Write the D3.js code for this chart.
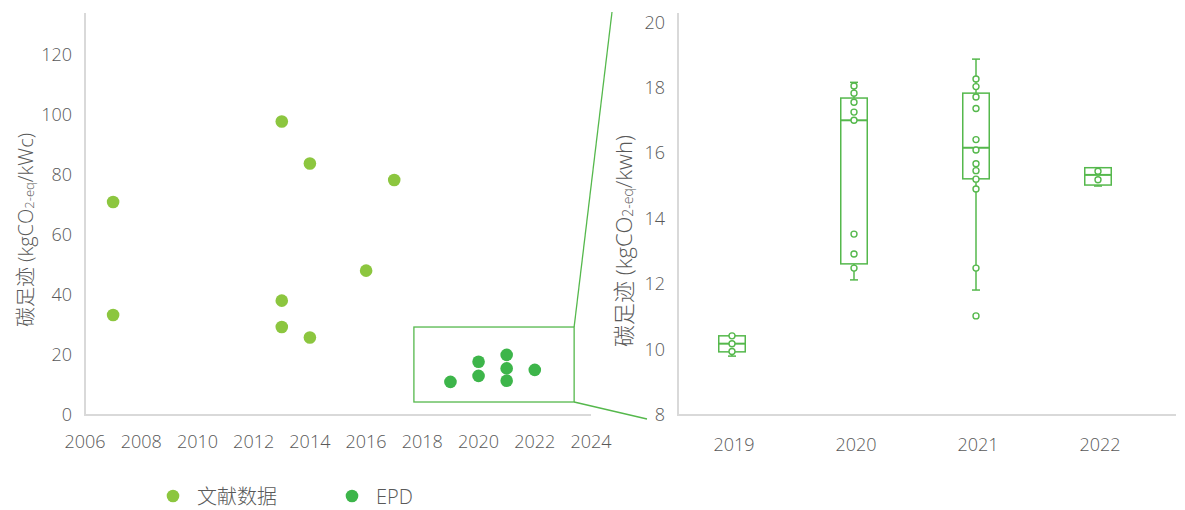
<!DOCTYPE html>
<html>
<head>
<meta charset="utf-8">
<script src="https://cdn.jsdelivr.net/npm/d3@7"></script>
<style>
  body { margin: 0; background: #fff; }
  text { font-family: "Open Sans", "Noto Sans CJK SC", sans-serif; font-weight: 300; fill: #595959; }
</style>
</head>
<body>
<svg id="chart" width="1185" height="510"></svg>
<script>
// left scatter: literature data
var litYears  = [2007, 2007, 2013, 2013, 2013, 2014, 2014, 2016, 2017];
var litValues = [70.7, 33, 97.5, 37.8, 29, 83.5, 25.5, 47.8, 78];

// left scatter: EPD data
var epdYears  = [2019, 2020, 2020, 2021, 2021, 2021, 2022];
var epdValues = [10.7, 17.4, 12.7, 19.7, 15.2, 11.1, 14.7];

var leftYTicks = [0, 20, 40, 60, 80, 100, 120];
var leftXTicks = [2006, 2008, 2010, 2012, 2014, 2016, 2018, 2020, 2022, 2024];

// zoom window (data units of the left chart)
var zoomYears  = [2017.7, 2023.4];
var zoomValues = [4, 29];

// right box plot, EPD by year
var boxCats   = ["2019", "2020", "2021", "2022"];
var boxQ1     = [9.9, 12.59, 15.19, 15.0];
var boxMedian = [10.15, 16.98, 16.14, 15.31];
var boxQ3     = [10.39, 17.66, 17.81, 15.53];
var whiskLo   = [9.77, 12.1, 11.79, 14.97];
var whiskHi   = [10.39, 18.14, 18.85, 15.53];
var boxPoints = [
  [10.39, 10.15, 9.91],
  [18.03, 17.81, 17.53, 17.23, 16.98, 13.5, 12.89, 12.46],
  [18.24, 18.01, 17.69, 17.34, 16.39, 16.07, 15.65, 15.44, 15.18, 14.88, 12.46, 11.0],
  [15.42, 15.16]
];
var rightYTicks = [8, 10, 12, 14, 16, 18, 20];

var legendNames = ["文献数据", "EPD"];

var litColor = "#8cc63f";
var epdColor = "#3db54a";
var boxColor = "#55b84c";
var axisColor = "#d9d9d9";

var svg = d3.select("#chart");

// ---------- left chart ----------
var x1 = d3.scaleLinear().domain([2006, 2024]).range([85, 591]);
var y1 = d3.scaleLinear().domain([0, 133.7]).range([414, 13]);

var left = svg.append("g");

left.append("line")
  .attr("x1", 85).attr("x2", 85).attr("y1", 13).attr("y2", 415)
  .attr("stroke", axisColor).attr("stroke-width", 2);
left.append("line")
  .attr("x1", 84).attr("x2", 591).attr("y1", 415).attr("y2", 415)
  .attr("stroke", axisColor).attr("stroke-width", 2);

left.selectAll("text.ytick")
  .data(leftYTicks)
  .enter().append("text")
  .attr("class", "ytick")
  .attr("x", 72)
  .attr("y", function(d) { return y1(d); })
  .attr("text-anchor", "end")
  .attr("dominant-baseline", "central")
  .style("font-size", "18px")
  .text(function(d) { return d; });

left.selectAll("text.xtick")
  .data(leftXTicks)
  .enter().append("text")
  .attr("class", "xtick")
  .attr("x", function(d) { return x1(d); })
  .attr("y", 441)
  .attr("text-anchor", "middle")
  .attr("dominant-baseline", "central")
  .style("font-size", "18px")
  .text(function(d) { return d; });

left.selectAll("circle.lit")
  .data(litYears)
  .enter().append("circle")
  .attr("class", "lit")
  .attr("cx", function(d) { return x1(d); })
  .attr("cy", function(d, i) { return y1(litValues[i]); })
  .attr("r", 6.3)
  .attr("fill", litColor);

left.selectAll("circle.epd")
  .data(epdYears)
  .enter().append("circle")
  .attr("class", "epd")
  .attr("cx", function(d) { return x1(d); })
  .attr("cy", function(d, i) { return y1(epdValues[i]); })
  .attr("r", 6.3)
  .attr("fill", epdColor);

// zoom rectangle + connectors
var zx0 = x1(zoomYears[0]), zx1 = x1(zoomYears[1]);
var zy0 = y1(zoomValues[1]), zy1 = y1(zoomValues[0]);
left.append("rect")
  .attr("x", zx0).attr("y", zy0)
  .attr("width", zx1 - zx0).attr("height", zy1 - zy0)
  .attr("fill", "none").attr("stroke", boxColor).attr("stroke-width", 1.3);
left.append("line")
  .attr("x1", zx1).attr("y1", zy0).attr("x2", 612).attr("y2", 12)
  .attr("stroke", boxColor).attr("stroke-width", 1.3);
left.append("line")
  .attr("x1", zx1).attr("y1", zy1).attr("x2", 647).attr("y2", 419)
  .attr("stroke", boxColor).attr("stroke-width", 1.3);

var lt = left.append("text")
  .attr("transform", "translate(25,230) rotate(-90)")
  .attr("text-anchor", "middle")
  .attr("dominant-baseline", "central")
  .style("font-size", "20px");
lt.append("tspan").text("碳足迹 (kgCO");
lt.append("tspan").attr("baseline-shift", "-30%").style("font-size", "13px").text("2-eq");
lt.append("tspan").text("/kWc)");

// ---------- right chart ----------
var x2 = d3.scalePoint().domain(boxCats).range([732, 1098]);
var y2 = d3.scaleLinear().domain([8, 20.26]).range([414, 13]);
var bw = 26.5, cap = 8;

var right = svg.append("g");

right.append("line")
  .attr("x1", 678).attr("x2", 678).attr("y1", 13).attr("y2", 415)
  .attr("stroke", axisColor).attr("stroke-width", 2);
right.append("line")
  .attr("x1", 677).attr("x2", 1176).attr("y1", 415).attr("y2", 415)
  .attr("stroke", axisColor).attr("stroke-width", 2);

right.selectAll("text.ytick")
  .data(rightYTicks)
  .enter().append("text")
  .attr("class", "ytick")
  .attr("x", 665)
  .attr("y", function(d) { return y2(d); })
  .attr("text-anchor", "end")
  .attr("dominant-baseline", "central")
  .style("font-size", "18px")
  .text(function(d) { return d; });

right.selectAll("text.xtick")
  .data(boxCats)
  .enter().append("text")
  .attr("class", "xtick")
  .attr("x", function(d) { return x2(d) + 2; })
  .attr("y", 444)
  .attr("text-anchor", "middle")
  .attr("dominant-baseline", "central")
  .style("font-size", "18px")
  .text(function(d) { return d; });

var boxes = right.selectAll("g.box")
  .data(boxCats)
  .enter().append("g")
  .attr("class", "box")
  .attr("transform", function(d) { return "translate(" + x2(d) + ",0)"; });

// whiskers
boxes.append("line")
  .attr("x1", 0).attr("x2", 0)
  .attr("y1", function(d, i) { return y2(boxQ3[i]); })
  .attr("y2", function(d, i) { return y2(whiskHi[i]); })
  .attr("stroke", boxColor).attr("stroke-width", 1.5);
boxes.append("line")
  .attr("x1", 0).attr("x2", 0)
  .attr("y1", function(d, i) { return y2(boxQ1[i]); })
  .attr("y2", function(d, i) { return y2(whiskLo[i]); })
  .attr("stroke", boxColor).attr("stroke-width", 1.5);
boxes.append("line")
  .attr("x1", -cap / 2).attr("x2", cap / 2)
  .attr("y1", function(d, i) { return y2(whiskHi[i]); })
  .attr("y2", function(d, i) { return y2(whiskHi[i]); })
  .attr("stroke", boxColor).attr("stroke-width", 1.5);
boxes.append("line")
  .attr("x1", -cap / 2).attr("x2", cap / 2)
  .attr("y1", function(d, i) { return y2(whiskLo[i]); })
  .attr("y2", function(d, i) { return y2(whiskLo[i]); })
  .attr("stroke", boxColor).attr("stroke-width", 1.5);

boxes.append("rect")
  .attr("x", -bw / 2).attr("width", bw)
  .attr("y", function(d, i) { return y2(boxQ3[i]); })
  .attr("height", function(d, i) { return y2(boxQ1[i]) - y2(boxQ3[i]); })
  .attr("fill", "#fff").attr("stroke", boxColor).attr("stroke-width", 1.5);
boxes.append("line")
  .attr("x1", -bw / 2).attr("x2", bw / 2)
  .attr("y1", function(d, i) { return y2(boxMedian[i]); })
  .attr("y2", function(d, i) { return y2(boxMedian[i]); })
  .attr("stroke", boxColor).attr("stroke-width", 2);

boxes.each(function(d, i) {
  d3.select(this).selectAll("circle")
    .data(boxPoints[i])
    .enter().append("circle")
    .attr("cx", 0)
    .attr("cy", function(v) { return y2(v); })
    .attr("r", 3)
    .attr("fill", "#fff")
    .attr("stroke", boxColor)
    .attr("stroke-width", 1.4);
});

var rt = right.append("text")
  .attr("transform", "translate(623,241) rotate(-90)")
  .attr("text-anchor", "middle")
  .attr("dominant-baseline", "central")
  .style("font-size", "22px");
rt.append("tspan").text("碳足迹 (kgCO");
rt.append("tspan").attr("baseline-shift", "-30%").style("font-size", "14px").text("2-eq");
rt.append("tspan").text("/kwh)");

// ---------- legend ----------
var legX = [173, 352];
var legColors = [litColor, epdColor];
var leg = svg.selectAll("g.leg")
  .data(legendNames)
  .enter().append("g")
  .attr("class", "leg")
  .attr("transform", function(d, i) { return "translate(" + legX[i] + ",496)"; });
leg.append("circle").attr("r", 6.3).attr("fill", function(d, i) { return legColors[i]; });
leg.append("text")
  .attr("x", 24)
  .attr("dominant-baseline", "central")
  .style("font-size", "20px")
  .text(function(d) { return d; });
</script>
</body>
</html>
